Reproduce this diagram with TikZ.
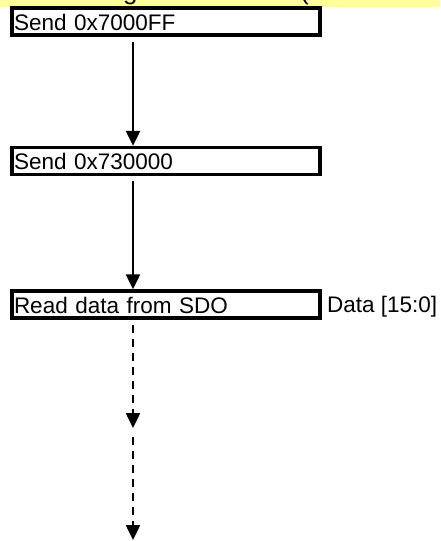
\documentclass[tikz,border=0pt]{standalone}
\usepackage{fontspec}
\setmainfont{Liberation Sans}
\usetikzlibrary{arrows.meta}
\definecolor{band}{HTML}{FFFF99}
\tikzset{
  stepbox/.style={draw=black, line width=3.5pt, fill=white, rectangle,
    minimum width=308pt, minimum height=27pt, text width=304pt, align=left,
    inner xsep=2pt, inner ysep=2pt, text height=20pt, text depth=3pt,
    font=\fontsize{22.5pt}{24pt}\selectfont},
  lbl/.style={font=\fontsize{22.5pt}{24pt}\selectfont, inner sep=0pt},
  solidarrow/.style={line width=2.5pt, shorten <=5pt, -{Triangle[length=15pt,width=14pt]}},
  dasharrow/.style={line width=2.5pt, dash pattern=on 8pt off 6pt, -{Triangle[length=15pt,width=14pt]}}
}
\begin{document}
\begin{tikzpicture}[x=1pt,y=-1pt]
\useasboundingbox (0,0) rectangle (440,541);
\fill[band] (0,0) rectangle (440,7);
\begin{scope}
  \clip (0,0) rectangle (440,7);
  \node[lbl, anchor=base west, font=\fontsize{26pt}{28pt}\selectfont] (tg) at (123,-1) {g};
  \node[lbl, anchor=base west, font=\fontsize{26pt}{28pt}\selectfont] (tp) at (300,-1) {(};
\end{scope}
\coordinate (ax) at (133,0);
\node[stepbox] (b1) at (166,21.5) {Send 0x7000FF};
\node[stepbox] (b2) at (166,161) {Send 0x730000};
\node[stepbox] (b3) at (166,304.5) {Read data from SDO};
\node[lbl, anchor=base west] (d) at (327,312) {Data [15:0]};
\coordinate (c1) at (133,428);
\coordinate (c2) at (133,540);
\draw[solidarrow] (b1.south -| ax) -- (b2.north -| ax);
\draw[solidarrow] (b2.south -| ax) -- (b3.north -| ax);
\draw[dasharrow, shorten <=5pt] (b3.south -| ax) -- (c1);
\draw[dasharrow, shorten <=9pt] (c1) -- (c2);
\end{tikzpicture}
\end{document}
